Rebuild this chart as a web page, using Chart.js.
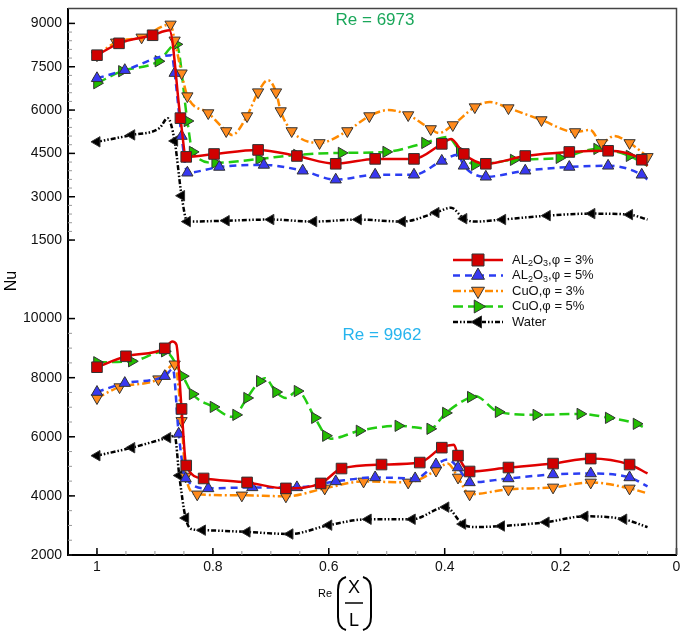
<!DOCTYPE html>
<html>
<head>
<meta charset="utf-8">
<script src="https://cdn.jsdelivr.net/npm/chart.js"></script>
<style>
  body { margin: 0; background: #fff; }
  #nuChart { display: block; }
</style>
</head>
<body>
<canvas id="nuChart" width="685" height="641"></canvas>
<script>
// axis ticks
const xTicks = [1, 0.8, 0.6, 0.4, 0.2, 0];
const nuTicksTop = [1500, 3000, 4500, 6000, 7500, 9000];
const nuTicksBottom = [2000, 4000, 6000, 8000, 10000];
const seriesNames = ['AL2O3,φ = 3%', 'AL2O3,φ = 5%', 'CuO,φ = 3%', 'CuO,φ = 5%', 'Water'];
const panelLabels = ['Re = 6973', 'Re = 9962'];

// ---- Re = 6973 (upper) : marker points, then bends of the curve without marker
const al3TopX = [1.0, 0.962, 0.904, 0.856, 0.846, 0.798, 0.722, 0.655, 0.588, 0.520, 0.453, 0.405, 0.367, 0.329, 0.261, 0.185, 0.118, 0.060];
const al3TopNu = [7900, 8310, 8590, 5720, 4380, 4480, 4620, 4410, 4140, 4310, 4310, 4830, 4480, 4140, 4410, 4550, 4590, 4280];
const al3TopBendX = [0.875, 0.389, 0.050];
const al3TopBendNu = [8760, 5000, 4070];

const al5TopX = [1.0, 0.952, 0.866, 0.854, 0.844, 0.789, 0.712, 0.645, 0.588, 0.520, 0.453, 0.405, 0.367, 0.329, 0.261, 0.185, 0.118, 0.060];
const al5TopNu = [7100, 7380, 7280, 5100, 3830, 4030, 4100, 3900, 3590, 3760, 3760, 4240, 4070, 3690, 3900, 4030, 4070, 3760];
const al5TopBendX = [0.871, 0.377, 0.050];
const al5TopBendNu = [7900, 4450, 3590];

const cu3TopX = [1.0, 0.967, 0.923, 0.873, 0.866, 0.854, 0.844, 0.808, 0.777, 0.741, 0.722, 0.691, 0.683, 0.664, 0.616, 0.568, 0.530, 0.463, 0.424, 0.386, 0.348, 0.290, 0.233, 0.175, 0.129, 0.081, 0.050];
const cu3TopNu = [7900, 8345, 8517, 8966, 8414, 7276, 6483, 5897, 5276, 5793, 6621, 6621, 5966, 5276, 4862, 5276, 5793, 5828, 5345, 5483, 6103, 6069, 5655, 5241, 4862, 4862, 4380];
const cu3TopBendX = [0.767, 0.705, 0.497, 0.410, 0.322, 0.149, 0.108];
const cu3TopBendNu = [5138, 7034, 6000, 5207, 6276, 5310, 5103];

const cu5TopX = [1.0, 0.957, 0.894, 0.863, 0.844, 0.835, 0.796, 0.720, 0.655, 0.578, 0.501, 0.434, 0.374, 0.348, 0.281, 0.202, 0.137, 0.081];
const cu5TopNu = [6930, 7345, 7690, 8276, 5621, 4552, 4172, 4310, 4448, 4517, 4552, 4862, 4586, 4103, 4276, 4345, 4655, 4414];
const cu5TopBendX = [0.395, 0.050];
const cu5TopBendNu = [5069, 4069];

const waterTopX = [1.0, 0.940, 0.866, 0.854, 0.844, 0.777, 0.700, 0.626, 0.549, 0.473, 0.415, 0.367, 0.300, 0.223, 0.146, 0.081];
const waterTopNu = [4900, 5140, 4930, 3035, 2140, 2170, 2210, 2140, 2210, 2140, 2450, 2240, 2210, 2345, 2415, 2380];
const waterTopBendX = [0.892, 0.878, 0.389, 0.348, 0.050];
const waterTopBendNu = [5380, 5720, 2620, 2140, 2210];

// ---- Re = 9962 (lower)
const al3BotX = [1.0, 0.950, 0.883, 0.854, 0.846, 0.816, 0.741, 0.674, 0.614, 0.578, 0.509, 0.443, 0.405, 0.377, 0.357, 0.290, 0.213, 0.148, 0.081];
const al3BotNu = [8354, 8723, 8992, 6942, 5027, 4590, 4456, 4254, 4422, 4926, 5061, 5128, 5632, 5363, 4826, 4960, 5094, 5262, 5061];
const al3BotBendX = [0.870, 0.863, 0.384, 0.050];
const al3BotBendNu = [9227, 9126, 5733, 4758];

const al5BotX = [1.0, 0.952, 0.883, 0.859, 0.847, 0.808, 0.732, 0.655, 0.588, 0.520, 0.451, 0.415, 0.377, 0.357, 0.290, 0.213, 0.148, 0.081];
const al5BotNu = [7514, 7816, 8051, 6102, 4590, 4254, 4288, 4288, 4490, 4624, 4590, 5061, 4960, 4456, 4590, 4725, 4758, 4624];
const al5BotBendX = [0.869, 0.395, 0.050];
const al5BotBendNu = [8300, 5229, 4322];

const cu3BotX = [1.0, 0.961, 0.894, 0.866, 0.854, 0.847, 0.827, 0.750, 0.674, 0.607, 0.540, 0.463, 0.415, 0.377, 0.357, 0.290, 0.213, 0.148, 0.081];
const cu3BotNu = [7312, 7682, 7950, 8454, 6539, 4658, 4053, 4019, 3986, 4254, 4490, 4456, 4859, 4624, 4053, 4221, 4288, 4456, 4254];
const cu3BotBendX = [0.395, 0.050];
const cu3BotBendNu = [5094, 4086];

const cu5BotX = [1.0, 0.940, 0.883, 0.852, 0.835, 0.799, 0.760, 0.741, 0.719, 0.691, 0.654, 0.624, 0.605, 0.547, 0.480, 0.425, 0.398, 0.355, 0.307, 0.242, 0.166, 0.117, 0.069];
const cu5BotNu = [8522, 8555, 8891, 8051, 7446, 7010, 6741, 7312, 7883, 7514, 7547, 6640, 6035, 6203, 6371, 6270, 6808, 7346, 6842, 6741, 6774, 6640, 6438];
const cu5BotBendX = [0.767, 0.710, 0.674, 0.597, 0.348, 0.055];
const cu5BotBendNu = [6674, 7984, 7312, 5934, 7379, 6304];

const waterBotX = [1.0, 0.940, 0.878, 0.858, 0.847, 0.818, 0.741, 0.667, 0.600, 0.532, 0.456, 0.398, 0.369, 0.302, 0.225, 0.158, 0.091];
const waterBotNu = [5360, 5630, 5970, 4690, 3250, 2840, 2780, 2710, 3010, 3210, 3210, 3620, 3045, 2980, 3110, 3310, 3210];
const waterBotBendX = [0.866, 0.836, 0.348, 0.050];
const waterBotBendNu = [6035, 2870, 2944, 2944];

const FONT = '"Liberation Sans", Arial, sans-serif';

// line / marker look of each series, legend order
const looks = [
  { line: '#e00000', fill: '#d00000', dash: [], style: 'rect', rot: 0, r: 7.5 },
  { line: '#2b3df2', fill: '#3838f0', dash: [7, 5], style: 'triangle', rot: 0, r: 6.5 },
  { line: '#ff8a00', fill: '#ff8a1c', dash: [8, 3, 2, 3], style: 'triangle', rot: 180, r: 6.5 },
  { line: '#22cc11', fill: '#22bb00', dash: [10, 5], style: 'triangle', rot: 90, r: 6.5 },
  { line: '#000000', fill: '#000000', dash: [5, 2, 1.5, 2, 1.5, 2], style: 'triangle', rot: -90, r: 6 }
];

function points(xs, ys, bxs, bys) {
  const pts = xs.map((x, i) => ({ x: x, y: ys[i] }));
  bxs.forEach((x, i) => pts.push({ x: x, y: bys[i], bend: true }));
  return pts.sort((a, b) => b.x - a.x);
}

function makeSet(i, pts, axis) {
  const lk = looks[i];
  return {
    label: seriesNames[i],
    data: pts,
    yAxisID: axis,
    borderColor: lk.line,
    borderWidth: 2.5,
    borderDash: lk.dash,
    backgroundColor: lk.fill,
    pointBackgroundColor: lk.fill,
    pointBorderColor: '#333',
    pointBorderWidth: 1,
    pointStyle: lk.style,
    rotation: lk.rot,
    pointRadius: c => (c.raw && c.raw.bend) ? 0 : lk.r,
    cubicInterpolationMode: 'monotone',
    tension: 0.4,
    fill: false
  };
}

const datasets = [
  makeSet(0, points(al3TopX, al3TopNu, al3TopBendX, al3TopBendNu), 'yTop'),
  makeSet(1, points(al5TopX, al5TopNu, al5TopBendX, al5TopBendNu), 'yTop'),
  makeSet(2, points(cu3TopX, cu3TopNu, cu3TopBendX, cu3TopBendNu), 'yTop'),
  makeSet(3, points(cu5TopX, cu5TopNu, cu5TopBendX, cu5TopBendNu), 'yTop'),
  makeSet(4, points(waterTopX, waterTopNu, waterTopBendX, waterTopBendNu), 'yTop'),
  makeSet(0, points(al3BotX, al3BotNu, al3BotBendX, al3BotBendNu), 'yBot'),
  makeSet(1, points(al5BotX, al5BotNu, al5BotBendX, al5BotBendNu), 'yBot'),
  makeSet(2, points(cu3BotX, cu3BotNu, cu3BotBendX, cu3BotBendNu), 'yBot'),
  makeSet(3, points(cu5BotX, cu5BotNu, cu5BotBendX, cu5BotBendNu), 'yBot'),
  makeSet(4, points(waterBotX, waterBotNu, waterBotBendX, waterBotBendNu), 'yBot')
];

function drawMarker(ctx, lk, x, y, r) {
  ctx.fillStyle = lk.fill;
  ctx.strokeStyle = '#333';
  ctx.lineWidth = 1;
  ctx.setLineDash([]);
  Chart.helpers.drawPoint(ctx, { pointStyle: lk.style, rotation: lk.rot, radius: r, borderWidth: 1 }, x, y);
}

// inward tick marks like the original plot
const tickMarks = {
  id: 'tickMarks',
  afterDatasetsDraw(chart) {
    const { ctx, chartArea: a, scales } = chart;
    ctx.save();
    ctx.setLineDash([]);
    const yTick = (sc, v, len, col) => {
      const py = sc.getPixelForValue(v);
      ctx.strokeStyle = col;
      ctx.beginPath(); ctx.moveTo(a.left, py); ctx.lineTo(a.left + len, py); ctx.stroke();
    };
    ctx.lineWidth = 1;
    for (let v = nuTicksTop[0]; v <= 9000; v += 300) yTick(scales.yTop, v, 4, '#999');
    for (let v = nuTicksBottom[0]; v <= 10000; v += 500) yTick(scales.yBot, v, 4, '#999');
    ctx.lineWidth = 1.5;
    nuTicksTop.forEach(v => yTick(scales.yTop, v, 7, '#000'));
    nuTicksBottom.forEach(v => yTick(scales.yBot, v, 7, '#000'));
    const xTick = (v, len, col) => {
      const px = scales.x.getPixelForValue(v);
      ctx.strokeStyle = col;
      ctx.beginPath(); ctx.moveTo(px, a.bottom); ctx.lineTo(px, a.bottom - len); ctx.stroke();
    };
    ctx.lineWidth = 1;
    for (let k = 1; k < 21; k++) xTick(k * 0.05, 4, '#999');
    ctx.lineWidth = 1.5;
    xTicks.forEach(v => xTick(v, 7, '#000'));
    // top and right frame
    ctx.strokeStyle = '#444';
    ctx.lineWidth = 1.5;
    ctx.beginPath();
    ctx.moveTo(a.left, a.top); ctx.lineTo(a.right, a.top); ctx.lineTo(a.right, a.bottom);
    ctx.stroke();
    ctx.restore();
  }
};

const annotations = {
  id: 'annotations',
  afterDraw(chart) {
    const { ctx } = chart;
    ctx.save();
    ctx.textBaseline = 'middle';
    ctx.textAlign = 'center';
    ctx.font = '17px ' + FONT;
    ctx.fillStyle = '#1aa75a';
    ctx.fillText(panelLabels[0], 375, 20);
    ctx.fillStyle = '#26b4ee';
    ctx.fillText(panelLabels[1], 382, 335);

    // Nu label
    ctx.fillStyle = '#000';
    ctx.save();
    ctx.translate(12, 281);
    ctx.rotate(-Math.PI / 2);
    ctx.font = '16px ' + FONT;
    ctx.fillText('Nu', 0, 0);
    ctx.restore();

    // x title: Re (X / L)
    ctx.font = '11px ' + FONT;
    ctx.fillText('Re', 325, 594);
    ctx.font = '18px ' + FONT;
    ctx.fillText('X', 354, 588);
    ctx.fillText('L', 354, 621);
    ctx.strokeStyle = '#000';
    ctx.lineWidth = 1.5;
    ctx.beginPath(); ctx.moveTo(345, 603); ctx.lineTo(363, 603); ctx.stroke();
    ctx.lineWidth = 2;
    ctx.beginPath();
    ctx.moveTo(346, 577); ctx.quadraticCurveTo(338, 579, 338, 590);
    ctx.lineTo(338, 617); ctx.quadraticCurveTo(338, 628, 346, 630);
    ctx.moveTo(363, 577); ctx.quadraticCurveTo(371, 579, 371, 590);
    ctx.lineTo(371, 617); ctx.quadraticCurveTo(371, 628, 363, 630);
    ctx.stroke();

    // legend
    const rowY = [260, 275.5, 291, 306.5, 322];
    looks.forEach((lk, i) => {
      const y = rowY[i];
      ctx.strokeStyle = lk.line;
      ctx.lineWidth = 2.5;
      ctx.setLineDash(lk.dash);
      ctx.beginPath(); ctx.moveTo(453, y); ctx.lineTo(503, y); ctx.stroke();
      drawMarker(ctx, lk, 478, y, lk.r + 1);
      // text with subscripts
      const name = seriesNames[i];
      let parts;
      if (name.startsWith('AL2O3')) {
        parts = [['AL', 0], ['2', 1], ['O', 0], ['3', 1], [name.slice(5), 0]];
      } else {
        parts = [[name, 0]];
      }
      let x = 512;
      ctx.fillStyle = '#111';
      ctx.textAlign = 'left';
      parts.forEach(([t, sub]) => {
        ctx.font = (sub ? '9px ' : '13px ') + FONT;
        ctx.fillText(t, x, y + (sub ? 4 : 0));
        x += ctx.measureText(t).width;
      });
    });
    ctx.restore();
  }
};

const tickFont = { size: 14, family: FONT };

function noEdgePad(s) {
  s.paddingTop = 0; s.paddingBottom = 0; s.paddingLeft = 0; s.paddingRight = 0;
}

new Chart(document.getElementById('nuChart').getContext('2d'), {
  type: 'line',
  data: { datasets: datasets },
  options: {
    responsive: false,
    animation: false,
    events: [],
    layout: { padding: { top: 3, right: 5, left: 0, bottom: 0 } },
    plugins: { legend: { display: false }, tooltip: { enabled: false } },
    scales: {
      x: {
        type: 'linear', reverse: true, min: 0, max: 1.05,
        grid: { display: false, drawTicks: false },
        border: { color: '#000', width: 2 },
        ticks: { padding: 4, color: '#111', font: tickFont, callback: v => String(v) },
        afterBuildTicks: s => { s.ticks = xTicks.map(v => ({ value: v })); },
        afterFit: s => { s.height = 86; noEdgePad(s); }
      },
      // stacked scales are placed bottom-up in definition order
      yBot: {
        type: 'linear', position: 'left', stack: 'nu', stackWeight: 289,
        min: 2000, max: 11681,
        grid: { display: false, drawTicks: false },
        border: { color: '#000', width: 2 },
        ticks: { padding: 6, color: '#111', font: tickFont, callback: v => String(v) },
        afterBuildTicks: s => { s.ticks = nuTicksBottom.map(v => ({ value: v })); },
        afterFit: s => { s.width = 68; noEdgePad(s); }
      },
      yTop: {
        type: 'linear', position: 'left', stack: 'nu', stackWeight: 263,
        min: 502, max: 9516,
        grid: { display: false, drawTicks: false },
        border: { color: '#000', width: 2 },
        ticks: { padding: 6, color: '#111', font: tickFont, callback: v => String(v) },
        afterBuildTicks: s => { s.ticks = nuTicksTop.map(v => ({ value: v })); },
        afterFit: s => { s.width = 68; noEdgePad(s); }
      }
    }
  },
  plugins: [tickMarks, annotations]
});
</script>
</body>
</html>
